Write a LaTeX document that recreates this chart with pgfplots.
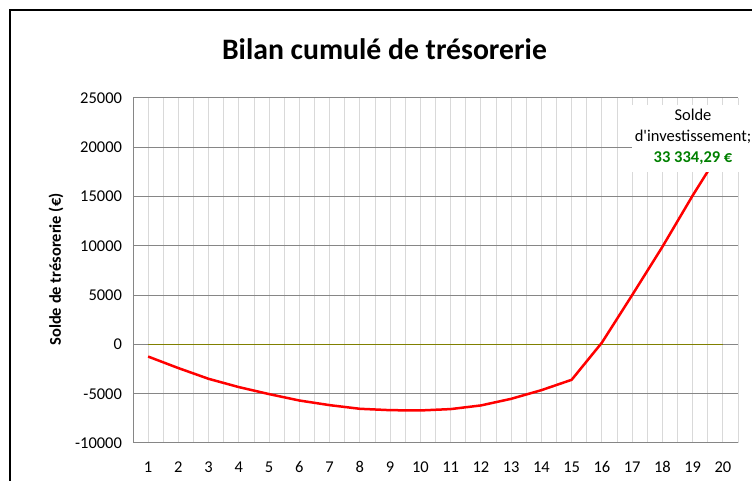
\documentclass[border=0pt]{standalone}
\usepackage{fontspec}
\setmainfont{Carlito}
\usepackage{pgfplots}
\pgfplotsset{compat=1.18}
\definecolor{gridmaj}{RGB}{134,134,134}
\definecolor{gridmin}{RGB}{217,217,217}
\definecolor{olivel}{RGB}{128,128,0}
\definecolor{dgreen}{RGB}{0,128,0}
\begin{document}
\begin{tikzpicture}[x=1pt,y=1pt]
\useasboundingbox (0,0) rectangle (752,481);
\begin{axis}[
 at={(133pt,38pt)}, anchor=south west,
 scale only axis, width=605pt, height=345pt,
 xmin=0.5, xmax=20.5, ymin=-10000, ymax=25000,
 xtick={1,...,20}, minor xtick={1.5,2.5,...,20.5},
 ytick={-10000,-5000,...,25000},
 xmajorgrids, xminorgrids, ymajorgrids,
 major x grid style={gridmin, line width=1pt},
 minor x grid style={gridmin, line width=1pt},
 major y grid style={gridmaj, line width=1pt},
 axis x line*=bottom, axis y line*=left,
 axis line style={gridmaj, line width=1pt, -},
 major tick length=0pt, minor tick length=0pt,
 tick label style={font=\fontsize{16.5}{18}\selectfont},
 /pgf/number format/assume math mode=true,
 scaled y ticks=false,
 yticklabel style={/pgf/number format/fixed, /pgf/number format/1000 sep={}, xshift=-7.5pt},
 xticklabel style={yshift=-15pt},
 clip=false,
]
\addplot[olivel, line width=1.5pt] coordinates {
 (1,0) (2,0) (3,0) (4,0) (5,0) (6,0) (7,0) (8,0) (9,0) (10,0)
 (11,0) (12,0) (13,0) (14,0) (15,0) (16,0) (17,0) (18,0) (19,0) (20,0)};
\addplot[red, line width=2.5pt, line join=round] coordinates {
 (1,-1230) (2,-2400) (3,-3490) (4,-4330) (5,-5040) (6,-5690) (7,-6160)
 (8,-6530) (9,-6670) (10,-6700) (11,-6560) (12,-6190) (13,-5520)
 (14,-4640) (15,-3590) (16,180) (17,5000) (18,9900) (19,15100) (20,20000)};
\end{axis}
\fill[white] (632,309) rectangle (760,376);
\node[anchor=base, font=\fontsize{16.5}{18}\selectfont] at (693,360.3) {Solde};
\node[anchor=base, font=\fontsize{16.5}{18}\selectfont] at (693,339.3) {d\textquotesingle investissement;};
\node[anchor=base, text=dgreen, font=\fontsize{16.5}{18}\selectfont\bfseries] at (693,318.3) {33 334,29 €};
\node[rotate=90, font=\fontsize{16.5}{18}\selectfont\bfseries] at (56,211.5) {Solde de trésorerie (€)};
\node[anchor=base, font=\fontsize{29.7}{32}\selectfont\bfseries] at (384.5,421) {Bilan cumulé de trésorerie};
\draw[line width=2.5pt] (10,-10) -- (10,471) -- (770,471);
\end{tikzpicture}
\end{document}
